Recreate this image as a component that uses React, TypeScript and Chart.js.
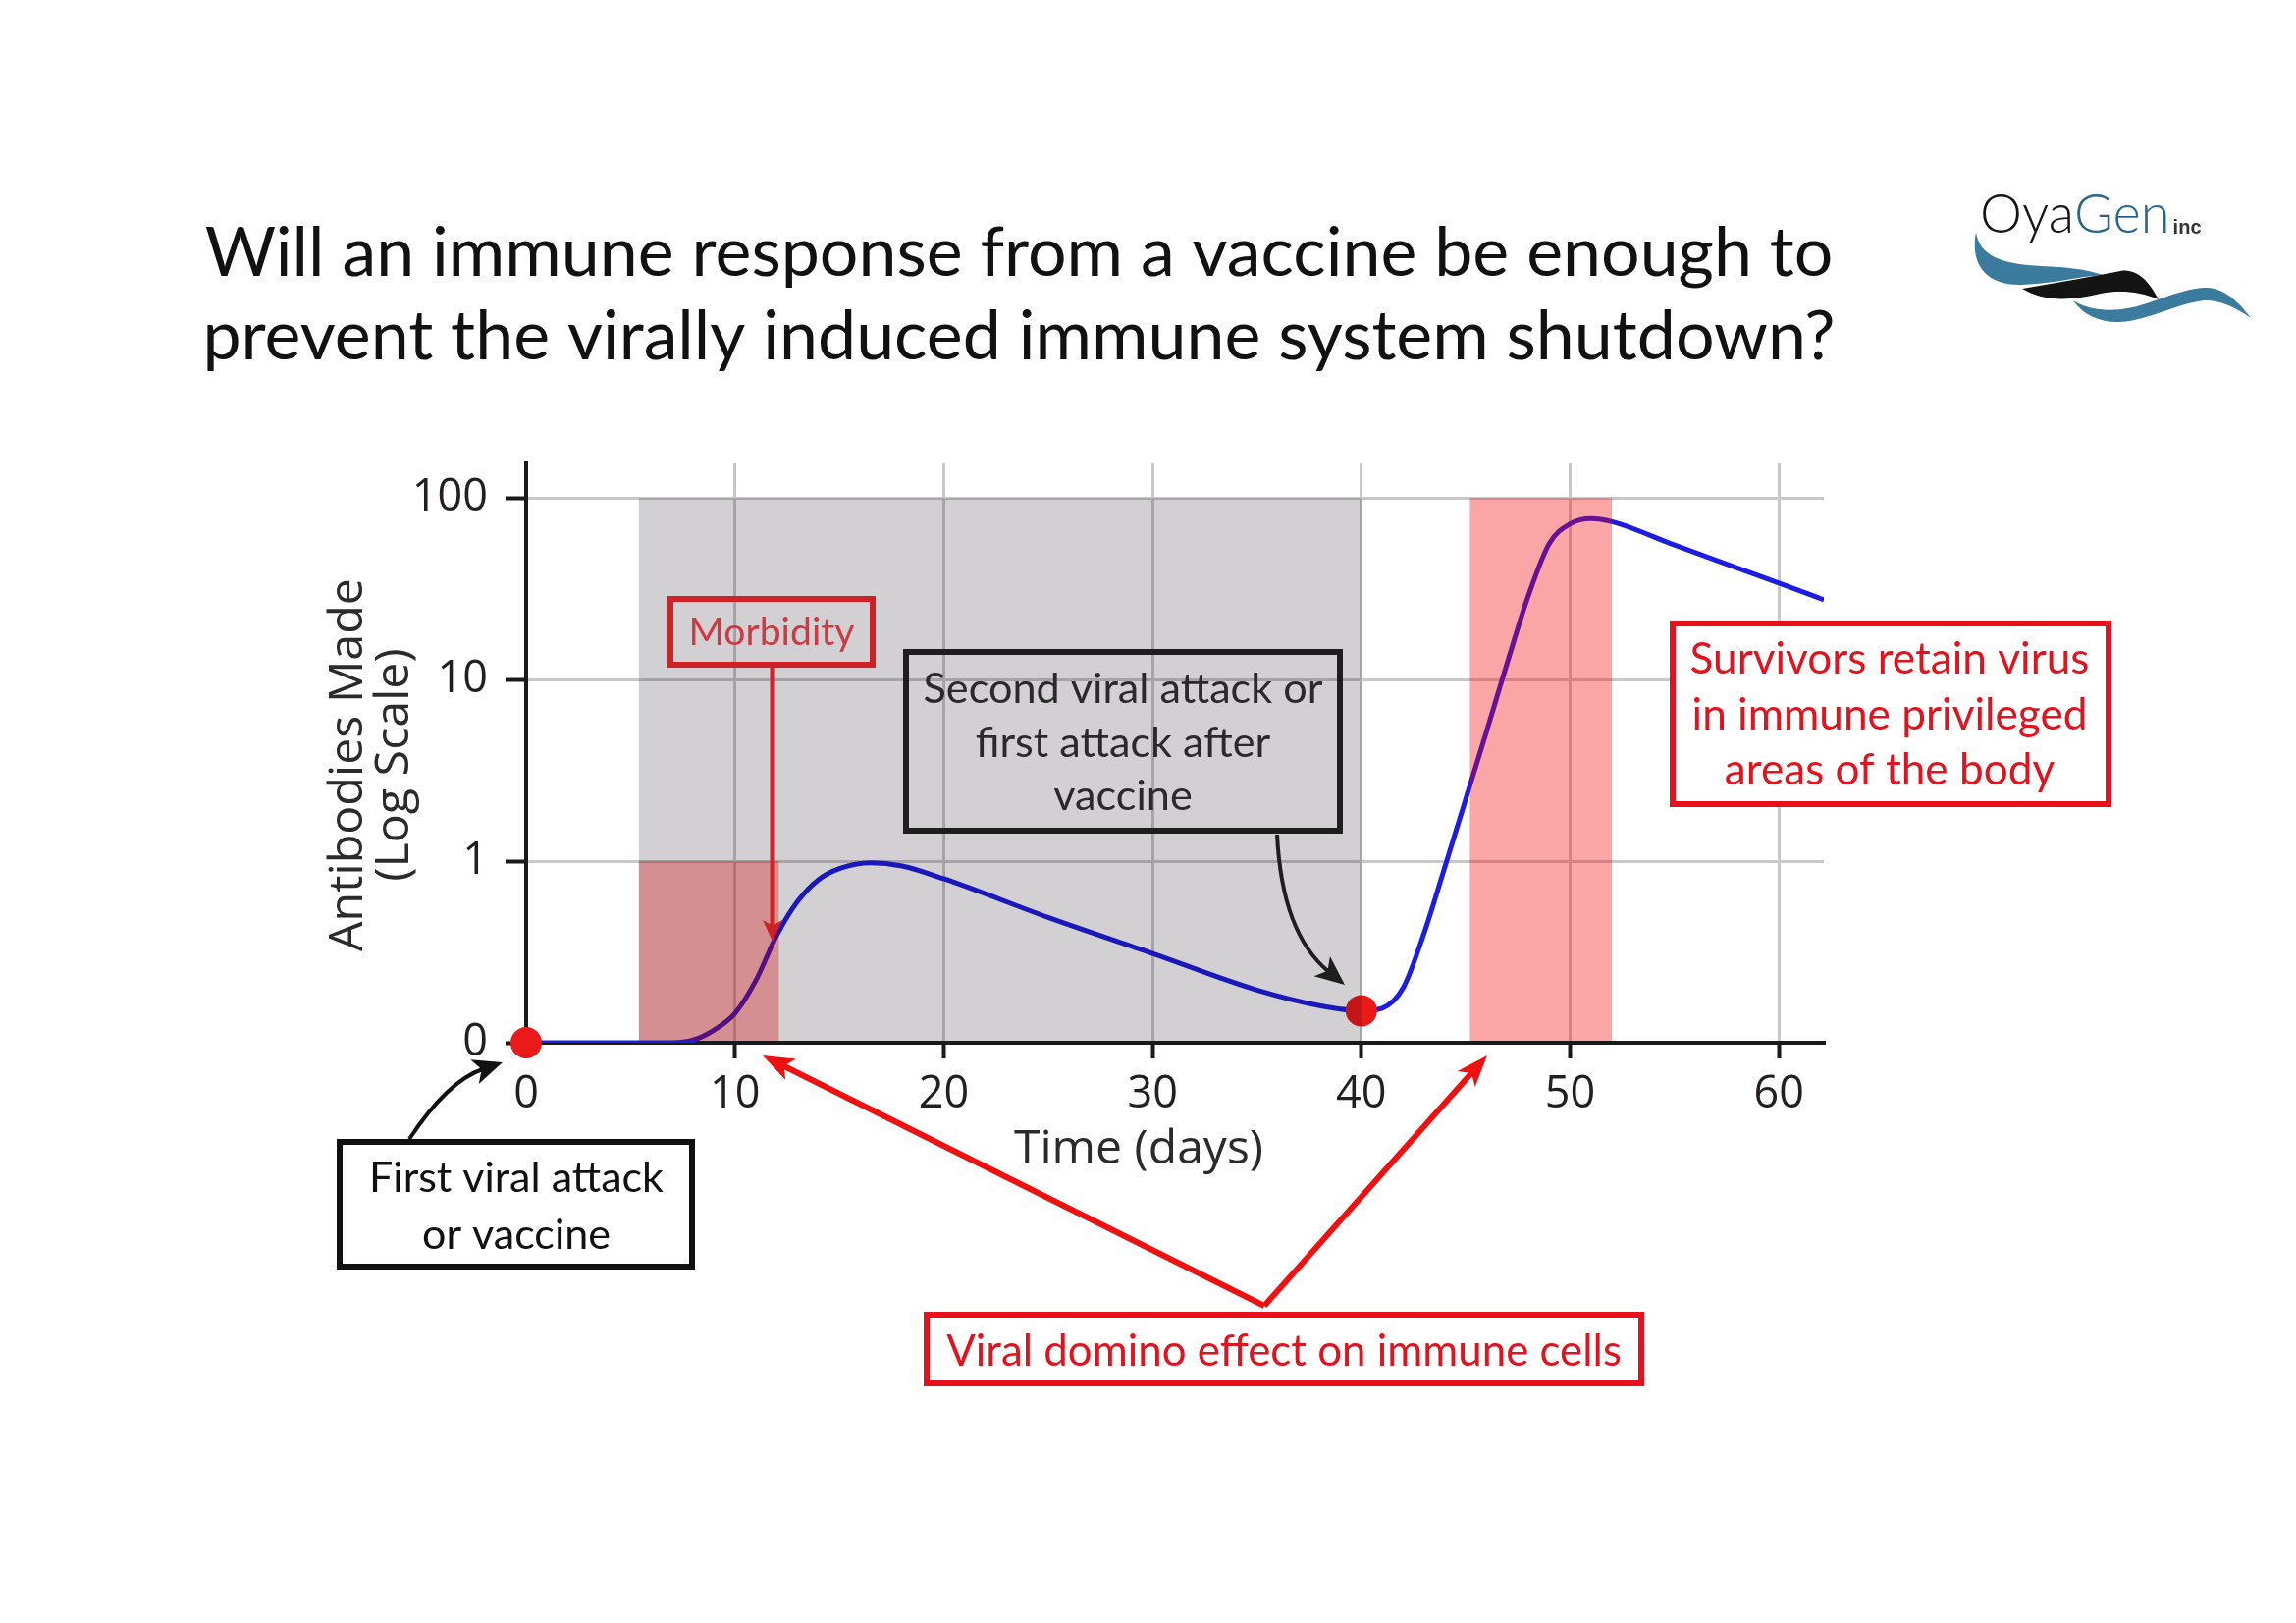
import React, { useEffect, useRef } from "react";
import { Chart, registerables } from "chart.js";

Chart.register(...registerables);

// ---------------- data ----------------
const days = [0, 5, 7, 8, 9, 10, 11, 12, 13, 14, 15, 16.5, 18, 20, 25, 30, 35, 38, 40, 41, 42, 43, 44, 45, 46, 47, 48, 49, 50, 51, 52, 55, 60, 62.15];
const antibodies = [0.1, 0.1, 0.1, 0.1035, 0.1175, 0.145, 0.22, 0.39, 0.6, 0.79, 0.91, 0.98, 0.94, 0.8, 0.49, 0.31, 0.195, 0.16, 0.15, 0.155, 0.2, 0.4, 0.93, 2.2, 5.2, 12.5, 29, 56, 72, 77, 74, 55, 34, 27.5];

const markerDays = [0, 40];
const markerValues = [0.1, 0.15];

const xTickValues = [0, 10, 20, 30, 40, 50, 60];
const yTickValues = [0.1, 1, 10, 100];
const yTickLabels = ["0", "1", "10", "100"];

const grayBandDays = [5.4, 40];
const grayBandValues = [0.1, 100];
const morbidityBandDays = [5.4, 12.1];
const morbidityBandValues = [0.1, 1];
const survivorBandDays = [45.2, 52];
const survivorBandValues = [0.1, 100];

const titleLines = [
  "Will an immune response from a vaccine be enough to",
  "prevent the virally induced immune system shutdown?",
];
const yTitleLines = ["Antibodies Made", "(Log Scale)"];
const xTitle = "Time (days)";

const morbidityText = ["Morbidity"];
const secondAttackText = ["Second viral attack or", "first attack after", "vaccine"];
const survivorsText = ["Survivors retain virus", "in immune privileged", "areas of the body"];
const firstAttackText = ["First viral attack", "or vaccine"];
const dominoText = ["Viral domino effect on immune cells"];

// ---------------- layout / style (page pixel coordinates) ----------------
const PAGE_OFFSET = 8;
const CANVAS_W = 2323;
const CANVAS_H = 1637;

const ANNO_FONT = "Lato, 'Open Sans', sans-serif";
const AXIS_FONT = "'Open Sans', 'Noto Sans', sans-serif";

type Box = {
  x: number; y: number; w: number; h: number;
  border: string; borderWidth: number; fill: string | null;
  color: string; cx: number; lineY: number[]; fitWidth: number; fitIndex: number;
};

const boxes: { [k: string]: Box } = {
  morbidity: { x: 680, y: 607, w: 212, h: 73, border: "#cf2227", borderWidth: 6, fill: null, color: "#cc3a44", cx: 786, lineY: [644], fitWidth: 169, fitIndex: 0 },
  second: { x: 920, y: 661, w: 448, h: 188, border: "#1e1e1e", borderWidth: 6, fill: null, color: "#2a2a2a", cx: 1144, lineY: [702, 757, 811], fitWidth: 407, fitIndex: 0 },
  survivors: { x: 1701, y: 632, w: 450, h: 190, border: "#e8101a", borderWidth: 6, fill: "#ffffff", color: "#e0141e", cx: 1925, lineY: [672, 729, 785], fitWidth: 403, fitIndex: 1 },
  first: { x: 343, y: 1160, w: 365, h: 133, border: "#111111", borderWidth: 6, fill: "#ffffff", color: "#111111", cx: 526, lineY: [1200, 1258], fitWidth: 300, fitIndex: 0 },
  domino: { x: 941, y: 1336, w: 734, h: 76, border: "#e8101a", borderWidth: 6, fill: "#ffffff", color: "#e0141e", cx: 1308, lineY: [1377], fitWidth: 688, fitIndex: 0 },
};

const boxTexts: { [k: string]: string[] } = {
  morbidity: morbidityText,
  second: secondAttackText,
  survivors: survivorsText,
  first: firstAttackText,
  domino: dominoText,
};

function fitSize(ctx: CanvasRenderingContext2D, text: string, family: string, weight: string, target: number) {
  ctx.font = `${weight} 100px ${family}`;
  const w = ctx.measureText(text).width;
  return (100 * target) / w;
}

function arrowHead(ctx: CanvasRenderingContext2D, tipX: number, tipY: number, fromX: number, fromY: number, len: number, half: number, color: string) {
  const ang = Math.atan2(tipY - fromY, tipX - fromX);
  const bx = tipX - len * Math.cos(ang);
  const by = tipY - len * Math.sin(ang);
  const nx = -Math.sin(ang);
  const ny = Math.cos(ang);
  const notchX = tipX - len * 0.75 * Math.cos(ang);
  const notchY = tipY - len * 0.75 * Math.sin(ang);
  ctx.fillStyle = color;
  ctx.beginPath();
  ctx.moveTo(tipX, tipY);
  ctx.lineTo(bx + nx * half, by + ny * half);
  ctx.lineTo(notchX, notchY);
  ctx.lineTo(bx - nx * half, by - ny * half);
  ctx.closePath();
  ctx.fill();
}

function straightArrow(ctx: CanvasRenderingContext2D, x0: number, y0: number, x1: number, y1: number, color: string, width: number, len: number, half: number) {
  const ang = Math.atan2(y1 - y0, x1 - x0);
  const ex = x1 - len * 0.7 * Math.cos(ang);
  const ey = y1 - len * 0.7 * Math.sin(ang);
  ctx.strokeStyle = color;
  ctx.lineWidth = width;
  ctx.lineCap = "butt";
  ctx.beginPath();
  ctx.moveTo(x0, y0);
  ctx.lineTo(ex, ey);
  ctx.stroke();
  arrowHead(ctx, x1, y1, x0, y0, len, half, color);
}

function curvedArrow(ctx: CanvasRenderingContext2D, x0: number, y0: number, cx: number, cy: number, x1: number, y1: number, color: string, width: number, len: number, half: number) {
  const ang = Math.atan2(y1 - cy, x1 - cx);
  const ex = x1 - len * 0.7 * Math.cos(ang);
  const ey = y1 - len * 0.7 * Math.sin(ang);
  ctx.strokeStyle = color;
  ctx.lineWidth = width;
  ctx.beginPath();
  ctx.moveTo(x0, y0);
  ctx.quadraticCurveTo(cx, cy, ex, ey);
  ctx.stroke();
  arrowHead(ctx, x1, y1, cx, cy, len, half, color);
}

function drawBox(ctx: CanvasRenderingContext2D, b: Box, lines: string[]) {
  const bw = b.borderWidth;
  if (b.fill) {
    ctx.fillStyle = b.fill;
    ctx.fillRect(b.x, b.y, b.w, b.h);
  }
  ctx.strokeStyle = b.border;
  ctx.lineWidth = bw;
  ctx.strokeRect(b.x + bw / 2, b.y + bw / 2, b.w - bw, b.h - bw);
  const size = fitSize(ctx, lines[b.fitIndex], ANNO_FONT, "normal", b.fitWidth);
  ctx.font = `normal ${size}px ${ANNO_FONT}`;
  ctx.fillStyle = b.color;
  ctx.textAlign = "center";
  ctx.textBaseline = "middle";
  lines.forEach((l, i) => ctx.fillText(l, b.cx, b.lineY[i]));
}

function drawLogo(ctx: CanvasRenderingContext2D) {
  const teal = "#3b7c9e";
  const dy = 6;
  ctx.save();
  ctx.translate(0, dy);
  ctx.fillStyle = teal;
  ctx.beginPath();
  ctx.moveTo(2013, 230);
  ctx.bezierCurveTo(2016, 255, 2040, 263, 2080, 265);
  ctx.bezierCurveTo(2105, 266, 2125, 268, 2142, 274);
  ctx.bezierCurveTo(2115, 276, 2090, 283, 2060, 284);
  ctx.bezierCurveTo(2028, 285, 2006, 268, 2013, 230);
  ctx.fill();

  ctx.fillStyle = "#141414";
  ctx.beginPath();
  ctx.moveTo(2060, 288);
  ctx.bezierCurveTo(2095, 282, 2130, 276, 2160, 270);
  ctx.bezierCurveTo(2178, 267, 2190, 282, 2199, 299);
  ctx.bezierCurveTo(2180, 291, 2160, 289, 2140, 293);
  ctx.bezierCurveTo(2110, 300, 2083, 302, 2060, 288);
  ctx.fill();

  ctx.fillStyle = teal;
  ctx.beginPath();
  ctx.moveTo(2112, 300);
  ctx.bezierCurveTo(2130, 312, 2160, 313, 2190, 302);
  ctx.bezierCurveTo(2215, 293, 2235, 286, 2250, 287);
  ctx.bezierCurveTo(2268, 289, 2282, 303, 2293, 318);
  ctx.bezierCurveTo(2275, 305, 2258, 299, 2245, 300);
  ctx.bezierCurveTo(2215, 304, 2190, 320, 2160, 322);
  ctx.bezierCurveTo(2140, 323, 2122, 315, 2112, 300);
  ctx.fill();
  ctx.restore();

  const fam = "Lato, 'Liberation Sans', sans-serif";
  ctx.textAlign = "left";
  ctx.textBaseline = "alphabetic";
  const size = fitSize(ctx, "OyaGen", fam, "300", 193);
  ctx.font = `300 ${size}px ${fam}`;
  ctx.fillStyle = "#151515";
  ctx.fillText("Oya", 2017, 237);
  const w = ctx.measureText("Oya").width;
  ctx.fillStyle = "#2b678a";
  ctx.fillText("Gen", 2017 + w, 237);
  const w2 = ctx.measureText("Gen").width;
  ctx.font = `bold 20px 'Liberation Sans', Arial, sans-serif`;
  ctx.fillStyle = "#333333";
  ctx.fillText("inc", 2017 + w + w2 + 3, 238);
}

const bands = [
  { days: grayBandDays, values: grayBandValues, color: "rgba(20,5,20,0.19)" },
  { days: morbidityBandDays, values: morbidityBandValues, color: "rgba(212,0,0,0.31)" },
  { days: survivorBandDays, values: survivorBandValues, color: "rgba(241,0,0,0.35)" },
];

const bandsPlugin = {
  id: "bands",
  afterDatasetsDraw(chart: any) {
    const { ctx, chartArea, scales } = chart;
    const x = scales.x;
    const y = scales.y;
    ctx.save();
    ctx.beginPath();
    ctx.rect(chartArea.left, chartArea.top, chartArea.right - chartArea.left, chartArea.bottom - chartArea.top - 2);
    ctx.clip();
    bands.forEach((b) => {
      const x0 = x.getPixelForValue(b.days[0]);
      const x1 = x.getPixelForValue(b.days[1]);
      const y0 = y.getPixelForValue(b.values[1]);
      const y1 = y.getPixelForValue(b.values[0]);
      ctx.fillStyle = b.color;
      ctx.fillRect(x0, y0, x1 - x0, y1 - y0);
    });
    ctx.restore();
  },
};

const annotationPlugin = {
  id: "annotations",
  afterDraw(chart: any) {
    const ctx: CanvasRenderingContext2D = chart.ctx;
    ctx.save();
    ctx.translate(-PAGE_OFFSET, -PAGE_OFFSET);

    // title
    const tSize = fitSize(ctx, titleLines[0], ANNO_FONT, "normal", 1659);
    ctx.font = `normal ${tSize}px ${ANNO_FONT}`;
    ctx.fillStyle = "#111111";
    ctx.textAlign = "center";
    ctx.textBaseline = "alphabetic";
    ctx.fillText(titleLines[0], 1038, 281);
    ctx.fillText(titleLines[1], 1038, 366);

    drawLogo(ctx);

    // axis titles
    const axSize = fitSize(ctx, xTitle, AXIS_FONT, "normal", 254);
    ctx.font = `normal ${axSize}px ${AXIS_FONT}`;
    ctx.fillStyle = "#2b2b2b";
    ctx.textAlign = "center";
    ctx.textBaseline = "middle";
    ctx.fillText(xTitle, 1160, 1171);

    const ySize = fitSize(ctx, yTitleLines[0], AXIS_FONT, "normal", 380);
    ctx.save();
    ctx.translate(355, 779);
    ctx.rotate(-Math.PI / 2);
    ctx.font = `normal ${ySize}px ${AXIS_FONT}`;
    ctx.fillText(yTitleLines[0], 0, 0);
    ctx.restore();
    ctx.save();
    ctx.translate(402, 779);
    ctx.rotate(-Math.PI / 2);
    ctx.font = `normal ${ySize}px ${AXIS_FONT}`;
    ctx.fillText(yTitleLines[1], 0, 0);
    ctx.restore();

    // arrows
    const xs = chart.scales.x;
    const ys = chart.scales.y;
    const off = PAGE_OFFSET;
    const morbX = xs.getPixelForValue(11.8) + off;
    const morbTipY = ys.getPixelForValue(0.36) + off;
    straightArrow(ctx, morbX, 680, morbX, morbTipY, "#cf2227", 5, 22, 10);

    curvedArrow(ctx, 1301, 850, 1306, 951, 1370, 1003, "#1e1e1e", 4, 30, 13);
    curvedArrow(ctx, 417, 1160, 456, 1101, 512, 1082, "#111111", 4, 30, 13);

    straightArrow(ctx, 1288, 1330, 777, 1075, "#ee1111", 6, 32, 12);
    straightArrow(ctx, 1288, 1330, 1515, 1075, "#ee1111", 6, 32, 12);

    // boxes
    Object.keys(boxes).forEach((k) => drawBox(ctx, boxes[k], boxTexts[k]));

    ctx.restore();
  },
};

export default function App() {
  const ref = useRef<HTMLCanvasElement>(null);
  useEffect(() => {
    const canvas = ref.current;
    if (!canvas) return;
    const chart = new Chart(canvas, {
      type: "line",
      data: {
        datasets: [
          {
            label: "Infection / vaccine events",
            data: markerDays.map((d, i) => ({ x: d, y: markerValues[i] })),
            showLine: false,
            pointRadius: 16,
            pointBackgroundColor: "#ea1a1a",
            pointBorderWidth: 0,
            clip: false,
          } as any,
          {
            label: "Antibodies",
            data: days.map((d, i) => ({ x: d, y: antibodies[i] })),
            borderColor: "#1d1de2",
            borderWidth: 5,
            pointRadius: 0,
            cubicInterpolationMode: "monotone",
            fill: false,
          } as any,
        ],
      },
      options: {
        responsive: false,
        animation: false,
        events: [],
        layout: { padding: { left: 378, right: 473, top: 464, bottom: 483 } },
        plugins: {
          legend: { display: false },
          tooltip: { enabled: false },
          title: { display: false },
        },
        scales: {
          x: {
            type: "linear",
            min: 0,
            max: 62.15,
            afterFit: (s: any) => { s.height = 100; },
            afterBuildTicks: (s: any) => { s.ticks = xTickValues.map((v) => ({ value: v })); },
            ticks: {
              font: { family: AXIS_FONT, size: 45 },
              color: "#231f20",
              padding: 10,
              callback: (v: any) => String(v),
            },
            grid: { color: "#c8c8c8", lineWidth: 3, tickColor: "#1a1a1a", tickWidth: 4, tickLength: 16 },
            border: { color: "#1a1a1a", width: 4 },
          },
          y: {
            type: "logarithmic",
            min: 0.1,
            max: 155,
            afterFit: (s: any) => { s.width = 150; },
            afterBuildTicks: (s: any) => { s.ticks = yTickValues.map((v) => ({ value: v })); },
            ticks: {
              font: { family: AXIS_FONT, size: 45 },
              color: "#231f20",
              padding: 18,
              callback: (v: any) => {
                const i = yTickValues.indexOf(Number(v));
                return i >= 0 ? yTickLabels[i] : "";
              },
            },
            grid: { color: "#c8c8c8", lineWidth: 3, tickColor: "#1a1a1a", tickWidth: 4, tickLength: 21 },
            border: { color: "#1a1a1a", width: 4 },
          },
        },
      } as any,
      plugins: [bandsPlugin, annotationPlugin],
    });
    return () => chart.destroy();
  }, []);
  return <canvas ref={ref} width={CANVAS_W} height={CANVAS_H} style={{ display: "block" }} />;
}
